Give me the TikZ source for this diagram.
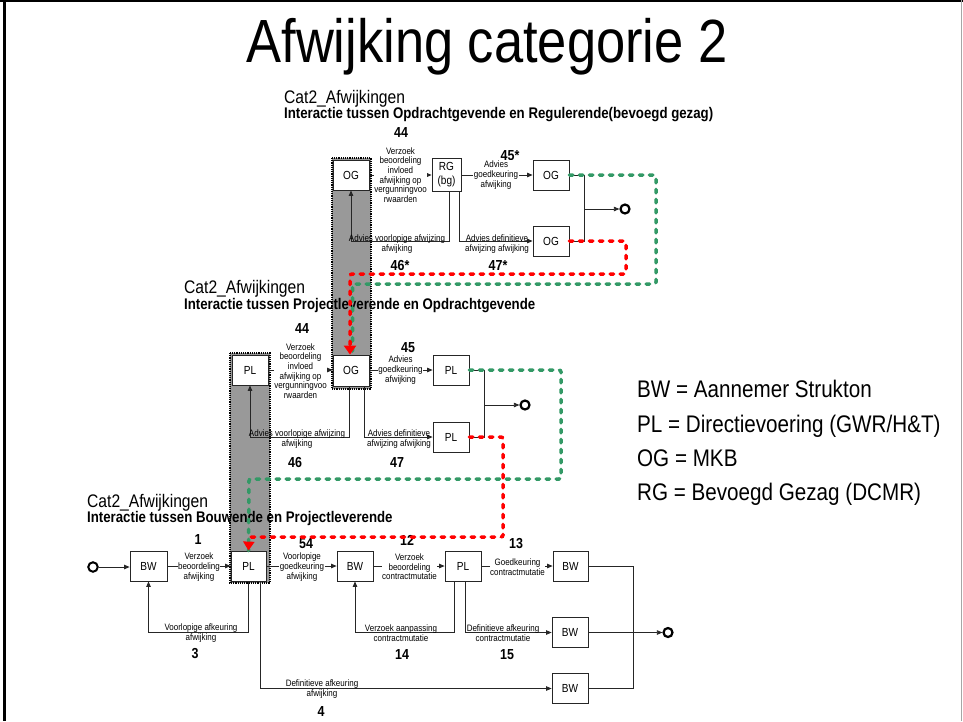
\documentclass[tikz,border=0pt]{standalone}
\usepackage{fontspec}
\usepackage{graphicx}
\setmainfont{Liberation Sans}
\usetikzlibrary{arrows.meta}
\definecolor{dgreen}{RGB}{51,153,102}
\definecolor{colgray}{RGB}{153,153,153}
\newcommand{\fs}[2]{\fontsize{#1}{#2}\selectfont}
\newcommand{\sq}[1]{\scalebox{0.86}[1]{#1}}
\begin{document}
\begin{tikzpicture}[x=1pt,y=-1pt,
  box/.style={draw=black!85, line width=0.8pt, fill=white, minimum width=36pt, minimum height=30pt, inner sep=0pt, font=\fs{11.7}{14}},
  lbl/.style={xscale=0.86, align=center, inner sep=0.6pt, font=\fs{9.3}{9.6}},
  lblw/.style={lbl, fill=white},
  num/.style={xscale=0.86, anchor=base, inner sep=0pt, font=\fs{14.5}{15}\bfseries},
  head/.style={xscale=0.86, anchor=base west, inner sep=0pt, font=\fs{18.2}{20}},
  subh/.style={xscale=0.86, anchor=base west, inner sep=0pt, font=\fs{15.4}{17}\bfseries},
  leg/.style={xscale=0.86, anchor=base west, inner sep=0pt, font=\fs{24}{26}},
  conn/.style={draw=black!85, line width=0.8pt},
  arr/.style={conn, -{Triangle[length=5.5pt,width=4.5pt]}},
  col/.style={fill=colgray, draw=black, densely dotted, line width=1.2pt},
  gdash/.style={draw=dgreen, line width=3.5pt, dash pattern=on 3.5pt off 6.5pt, line cap=round, rounded corners=2pt},
  rdash/.style={draw=red, line width=3.5pt, dash pattern=on 3.5pt off 6.5pt, line cap=round, rounded corners=2pt},
  endc/.style={circle, draw=black, line width=2.2pt, minimum size=9pt, inner sep=0pt, fill=white},
]
\useasboundingbox (0,0) rectangle (963,721);
% frame
\draw[line width=3pt, black] (4.5,0) -- (4.5,721);
\draw[line width=2pt, black] (0,1) -- (963,1);
\draw[line width=1.5pt, black!35] (961.5,0) -- (961.5,721);

% title
\node[xscale=0.86, anchor=base, inner sep=0pt, font=\fs{61}{61}] (title) at (487,62) {Afwijking categorie 2};

% gray columns
\draw[col] (332,158) rectangle (371,389);
\draw[col] (230,353) rectangle (270,583);

% helper coordinates for vertical connector positions
\coordinate (x449) at (449,0);
\coordinate (x460) at (459.5,0);
\coordinate (x349) at (349,0);
\coordinate (x364) at (364,0);
\coordinate (x248) at (248,0);
\coordinate (x260) at (260,0);
\coordinate (x454) at (454,0);
\coordinate (x465) at (465,0);
\coordinate (x584) at (584,0);
\coordinate (x484) at (484,0);
\coordinate (x633) at (633,0);
\coordinate (x352) at (352.5,0);
\coordinate (x350) at (350,0);

% ---------- boxes: top section
\node[box] (ogT) at (351,175) {\sq{OG}};
\node[box, minimum width=29pt, minimum height=33pt] (rg) at (446.5,175) {\sq{\begin{tabular}{@{}c@{}}RG\\(bg)\end{tabular}}};
\node[box] (ogR1) at (551,175) {\sq{OG}};
\node[box] (ogR2) at (551,241) {\sq{OG}};
% ---------- middle section
\node[box] (plM) at (250,370) {\sq{PL}};
\node[box, minimum height=31pt] (ogM) at (351,370.5) {\sq{OG}};
\node[box] (plR1) at (451,370) {\sq{PL}};
\node[box] (plR2) at (451,437) {\sq{PL}};
% ---------- bottom section
\node[box, minimum width=37pt] (bw1) at (148.5,566) {\sq{BW}};
\node[box, minimum width=35pt] (plB) at (248.5,566) {\sq{PL}};
\node[box] (bw2) at (355,566) {\sq{BW}};
\node[box] (pl3) at (463,566) {\sq{PL}};
\node[box, minimum width=35pt] (bw3) at (570.5,566) {\sq{BW}};
\node[box] (bw4) at (570,632.5) {\sq{BW}};
\node[box] (bw5) at (570,688.5) {\sq{BW}};

% circles
\node[circle, draw=black, line width=2pt, minimum size=9.5pt, inner sep=0pt, fill=white] (start) at (93,567) {};
\node[endc] (endT) at (625,209) {};
\node[endc] (endM) at (525,405) {};
\node[endc] (endB) at (668,632.5) {};

% ---------- connectors top
\draw[arr] (ogT.east) -- (rg.west);
\draw[arr] (rg.east) -- (ogR1.west);
\draw[arr] (rg.south -| x449) -- (449,241) -| (ogT.south);
\draw[arr] (rg.south -| x460) |- (ogR2.west);
\draw[conn] (ogR1.east) -| (x584 |- ogR2.east) -- (ogR2.east);
\coordinate (mT) at (584,209);
\draw[arr] (mT) -- (endT);

% ---------- connectors middle
\draw[arr] (plM.east) -- (ogM.west |- plM.east);
\draw[arr] (ogM.east |- plR1.west) -- (plR1.west);
\draw[arr] (ogM.south -| x349) -- (349,437) -| (plM.south);
\draw[arr] (ogM.south -| x364) |- (plR2.west);
\draw[conn] (plR1.east) -| (x484 |- plR2.east) -- (plR2.east);
\coordinate (mM) at (484,405);
\draw[arr] (mM) -- (endM);

% ---------- connectors bottom
\draw[arr] (start) -- (bw1.west |- start);
\draw[arr] (bw1.east) -- (plB.west);
\draw[arr] (plB.east) -- (bw2.west);
\draw[arr] (bw2.east) -- (pl3.west);
\draw[arr] (pl3.east) -- (bw3.west);
\draw[arr] (plB.south -| x248) -- (248,632) -| (bw1.south);
\draw[arr] (plB.south -| x260) |- (bw5.west);
\draw[arr] (pl3.south -| x454) -- (454,632.5) -| (bw2.south);
\draw[arr] (pl3.south -| x465) |- (bw4.west);
\draw[conn] (bw3.east) -| (x633 |- bw5.east) -- (bw5.east);
\draw[arr] (bw4.east) -- (endB);

% ---------- headings
\node[head] (h1) at (284,103) {Cat2\_Afwijkingen};
\node[subh] (s1) at (284,118) {Interactie tussen Opdrachtgevende en Regulerende(bevoegd gezag)};
\node[head] (h2) at (184,293) {Cat2\_Afwijkingen};
\node[subh] (s2) at (184,309) {Interactie tussen Projectleverende en Opdrachtgevende};
\node[head] (h3) at (87,507) {Cat2\_Afwijkingen};
\node[subh] (s3) at (87,522) {Interactie tussen Bouwende en Projectleverende};

% ---------- labels top
\node[num] (n44a) at (401,137) {44};
\node[lblw] (l44a) at (400.5,175) {Verzoek\\beoordeling\\invloed\\afwijking op\\vergunningvoo\\rwaarden};
\node[num] (n45a) at (510,160) {45*};
\node[lblw] (l45a) at (496,175) {Advies\\goedkeuring\\afwijking};
\node[lbl] (l46a) at (397,244) {Advies voorlopige afwijzing\\afwijking};
\node[num] (n46a) at (400,270) {46*};
\node[lbl] (l47a) at (497,244) {Advies definitieve\\afwijzing afwijking};
\node[num] (n47a) at (498,270) {47*};

% ---------- labels middle
\node[num] (n44b) at (302,333) {44};
\node[lblw] (l44b) at (300.5,371) {Verzoek\\beoordeling\\invloed\\afwijking op\\vergunningvoo\\rwaarden};
\node[num] (n45b) at (408,352) {45};
\node[lblw] (l45b) at (400.5,370) {Advies\\goedkeuring\\afwijking};
\node[lbl] (l46b) at (297,439) {Advies voorlopige afwijzing\\afwijking};
\node[num] (n46b) at (295,467) {46};
\node[lbl] (l47b) at (399,439) {Advies definitieve\\afwijzing afwijking};
\node[num] (n47b) at (397,467) {47};

% ---------- labels bottom
\node[num] (n1) at (198,544) {1};
\node[lblw] (l1) at (199,567) {Verzoek\\beoordeling\\afwijking};
\node[num] (n54) at (306,548) {54};
\node[lblw] (l54) at (302,567) {Voorlopige\\goedkeuring\\afwijking};
\node[num] (n12) at (407,545) {12};
\node[lblw] (l12) at (409.5,567) {Verzoek\\beoordeling\\contractmutatie};
\node[num] (n13) at (516,548) {13};
\node[lblw] (l13) at (517.5,567) {Goedkeuring\\contractmutatie};
\node[lbl] (l3) at (201,633) {Voorlopige afkeuring\\afwijking};
\node[num] (n3) at (195,658) {3};
\node[lbl] (l14) at (401,633) {Verzoek aanpassing\\contractmutatie};
\node[num] (n14) at (402,659) {14};
\node[lbl] (l15) at (503,633) {Definitieve afkeuring\\contractmutatie};
\node[num] (n15) at (507,659) {15};
\node[lbl] (l4) at (322,689) {Definitieve afkeuring\\afwijking};
\node[num] (n4) at (321,716) {4};

% ---------- legend
\node[leg] (lg1) at (637,397) {BW = Aannemer Strukton};
\node[leg] (lg2) at (637,432) {PL = Directievoering (GWR/H\&T)};
\node[leg] (lg3) at (637,466) {OG = MKB};
\node[leg] (lg4) at (637,500) {RG = Bevoegd Gezag (DCMR)};

% ---------- dashed feedback lines
\draw[gdash] (ogR1.east) -- (656,175) -- (656,284) -- (352.5,284) -- (ogM.north -| x352);
\draw[rdash, -{Triangle[length=9pt,width=12pt]}] (ogR2.east) -- (626,241) -- (626,274) -- (350,274) -- (ogM.north -| x350);
\draw[gdash] (plR1.east) -- (561,370) -- (561,479) -- (249,479) -- (plB.north);
\draw[rdash, -{Triangle[length=9pt,width=11pt]}] (plR2.east) -- (503,437) -- (503,537) -- (249,537) -- (plB.north);
\end{tikzpicture}
\end{document}
